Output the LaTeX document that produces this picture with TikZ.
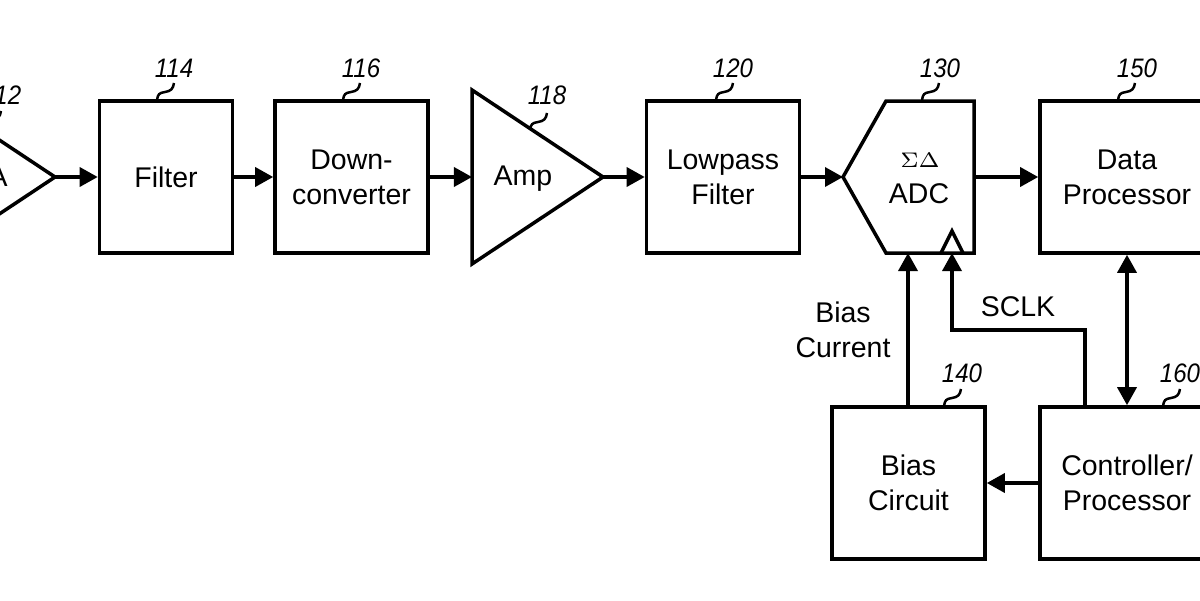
\documentclass[tikz,border=0pt]{standalone}
\usepackage{fontspec}
\setmainfont{Liberation Sans}
\newfontfamily\numfont[FakeStretch=0.9]{Liberation Sans Italic}
\usetikzlibrary{arrows.meta}
\usetikzlibrary{calc}

\tikzset{
    block/.style={draw, line width=0.035cm, minimum width=1.53cm, minimum height=1.52cm,
        align=center, font=\fontsize{8.1}{9.95}\selectfont},
    txt/.style={align=center, font=\fontsize{8.1}{9.95}\selectfont},
    num/.style={font=\fontsize{7.6}{9}\numfont},
    wire/.style={line width=0.035cm, -{Triangle[length=0.18cm,width=0.19cm]}},
    dblwire/.style={line width=0.035cm, {Triangle[length=0.18cm,width=0.19cm]}-{Triangle[length=0.18cm,width=0.19cm]}},
    outline/.style={line width=0.035cm, line join=miter},
    lead/.style={line width=0.025cm}
}
% little wavy line from a block up to its number
\newcommand{\squig}[1]{\draw[lead] (#1) .. controls +(1,-6) and +(-6,1) .. ++(8,-8) .. controls +(6,-1) and +(-1,6) .. ++(9,-9);}

\begin{document}
\begin{tikzpicture}[x=0.01cm, y=-0.01cm]
    \useasboundingbox (0,0) rectangle (1200,600);
    \clip (0,0) rectangle (1200,600);

    \node[block, minimum width=1.33cm] (filter) at (166,177) {Filter};
    \node[block] (down) at (351.5,177) {Down-\\converter};
    \node[block] (lowpass) at (723,177) {Lowpass\\Filter};
    \node[block, minimum width=1.74cm] (data) at (1127,177) {Data\\Processor};
    \node[block] (bias) at (908.5,483) {Bias\\Circuit};
    \node[block, minimum width=1.74cm] (ctrl) at (1127,483) {Controller/\\Processor};

    % the triangles and the converter
    \coordinate (lnaout) at (55,177);
    \coordinate (ampin) at (472,177);
    \coordinate (ampout) at (603,177);
    \coordinate (adcin) at (843,177);
    \coordinate (adcout) at (974,177);
    \coordinate (adcbias) at (908,253);
    \coordinate (adcclk) at (952,253);
    \coordinate (sclka) at (952,330);
    \coordinate (sclkb) at (1085,330);
    \coordinate (ctrltop) at (1085,407);
    \coordinate (biastop) at (908,407);

    \draw[outline] (-76,90) -- (lnaout) -- (-76,264) -- cycle;
    \draw[outline] (472,90) -- (ampout) -- (472,264) -- cycle;
    \draw[outline] (adcin) -- (886,101) -- (974,101) -- (974,253) -- (886,253) -- cycle;
    \draw[outline] (941,253) -- (952,231) -- (963,253);

    \node[txt] (lna) at (-20,177) {LNA};
    \node[txt] (amp) at (523,179) {Amp};
    \node[txt] (adc) at (919,194) {ADC};
    \node[font=\fontsize{6.4}{8}\selectfont] (sigma) at (920,160) {$\Sigma\Delta$};
    \node[txt] (current) at (843,330) {Bias\\Current};
    \node[txt] (sclk) at (1018,307) {SCLK};

    \draw[wire] (lnaout) -- (filter.west);
    \draw[wire] (filter.east) -- (down.west);
    \draw[wire] (down.east) -- (ampin);
    \draw[wire] (ampout) -- (lowpass.west);
    \draw[wire] (lowpass.east) -- (adcin);
    \draw[wire] (adcout) -- (data.west);
    \draw[dblwire] (data.south) -- (ctrl.north);
    \draw[wire] (ctrl.west) -- (bias.east);
    \draw[wire] (biastop) -- (adcbias);
    \draw[wire] (ctrltop) -- (sclkb) -- (sclka) -- (adcclk);

    % block numbers
    \node[num] (n112) at (2,95) {112};
    \node[num] (n114) at (174,68) {114};
    \node[num] (n116) at (361,68) {116};
    \node[num] (n118) at (547,95) {118};
    \node[num] (n120) at (733,68) {120};
    \node[num] (n130) at (940,68) {130};
    \node[num] (n150) at (1137,68) {150};
    \node[num] (n140) at (962,373) {140};
    \node[num] (n160) at (1180,373) {160};

    \squig{-16,128}
    \squig{157,100}
    \squig{343,100}
    \squig{530,130}
    \squig{716,100}
    \squig{922,100}
    \squig{1118,100}
    \squig{944,406}
    \squig{1163,406}
\end{tikzpicture}
\end{document}
